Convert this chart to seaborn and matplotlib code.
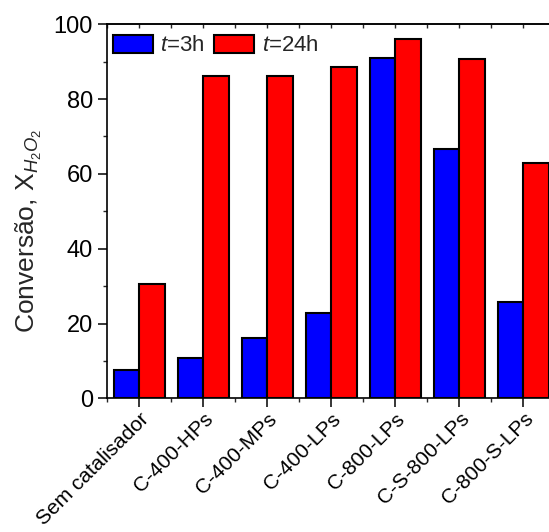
import matplotlib
matplotlib.use("Agg")
import matplotlib.pyplot as plt
import seaborn as sns
import pandas as pd
from matplotlib.ticker import MultipleLocator, FixedLocator

categories = ["Sem catalisador", "C-400-HPs", "C-400-MPs", "C-400-LPs",
              "C-800-LPs", "C-S-800-LPs", "C-800-S-LPs"]
conv_3h = [7.7, 10.9, 16.2, 22.7, 91.1, 66.7, 25.8]
conv_24h = [30.6, 86.1, 86.3, 88.7, 96.0, 90.7, 63.0]
series_labels = ["$t$=3h", "$t$=24h"]
colors = ["#0000FF", "#FF0000"]

df = pd.DataFrame({
    "cat": categories * 2,
    "val": conv_3h + conv_24h,
    "serie": [series_labels[0]] * len(categories) + [series_labels[1]] * len(categories),
})

sns.set_style("ticks")
plt.rcParams["font.family"] = ["Liberation Sans", "DejaVu Sans"]
plt.rcParams["mathtext.fontset"] = "custom"
plt.rcParams["mathtext.rm"] = "Liberation Sans"
plt.rcParams["mathtext.it"] = "Liberation Sans:italic"

fig = plt.figure(figsize=(5.49, 5.32), dpi=100)
W, H = 549, 532
left, bottom, top = 106.7, 398.3, 24.3
ax = fig.add_axes([left / W, (H - bottom) / H, 455 / W, (bottom - top) / H])

sns.barplot(data=df, x="cat", y="val", hue="serie", order=categories,
            hue_order=series_labels, palette=colors, saturation=1,
            width=0.8, edgecolor="black", linewidth=1.5, ax=ax)

ax.set_xlim(-0.51, 6.6)
ax.set_ylim(0, 100)
ax.yaxis.set_major_locator(MultipleLocator(20))
ax.yaxis.set_minor_locator(MultipleLocator(10))
minor_x = [i + 0.5 for i in range(-1, 7)]
ax.xaxis.set_minor_locator(FixedLocator(minor_x))

for s in ["left", "bottom", "top"]:
    ax.spines[s].set_visible(True)
    ax.spines[s].set_linewidth(1.2)
    ax.spines[s].set_color("black")
ax.spines["right"].set_visible(False)

ax.tick_params(axis="both", which="major", direction="out", length=6.5, width=1.1,
               labelsize=17, colors="black")
ax.tick_params(axis="both", which="minor", direction="out", length=3, width=1.0)
ax.tick_params(axis="x", which="major", labelsize=15, pad=1.5)
for lab in ax.get_xticklabels():
    lab.set_rotation(45)
    lab.set_ha("right")
    lab.set_rotation_mode("anchor")

# inward ticks on the top spine
sec = ax.secondary_xaxis("top")
sec.set_xticks(range(len(categories)))
sec.xaxis.set_minor_locator(FixedLocator(minor_x))
sec.tick_params(axis="x", which="both", direction="in", length=3, width=1.0,
                labeltop=False)
sec.spines["top"].set_linewidth(1.2)

ax.set_xlabel("")
ax.set_ylabel(r"Conversão, $\mathrm{X}_{H_2O_2}$", fontsize=19)
ax.yaxis.set_label_coords(-0.1385, 0.446)

handles, labels = ax.get_legend_handles_labels()
ax.legend(handles, labels, loc="upper left", bbox_to_anchor=(6 / 455, 1 - 10.5 / 374),
          ncol=2, frameon=False, fontsize=16, borderpad=0, borderaxespad=0,
          handlelength=1.8, handleheight=0.86, handletextpad=0.35,
          columnspacing=0.4)

fig.savefig("out.png", dpi=100)
